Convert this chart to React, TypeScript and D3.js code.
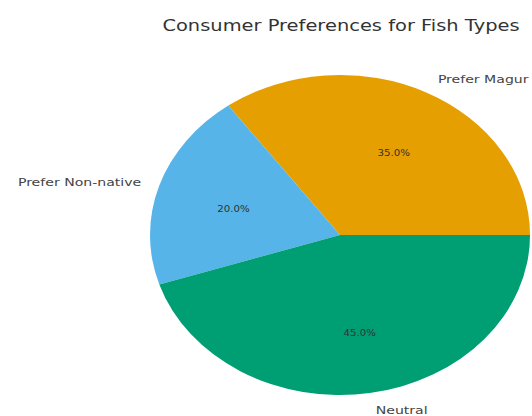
import React from "react";
import * as d3 from "d3";

const categories = ["Prefer Magur", "Prefer Non-native", "Neutral"];
const values = [35, 20, 45];
const colors = ["#E69F00", "#56B4E9", "#009E73"];
const title = "Consumer Preferences for Fish Types";

const SX = 1.28;

function SText(props: { x: number; y: number; size: number; fill: string; anchor: string; children: any; weight?: string }) {
  return (
    <g transform={`translate(${props.x},${props.y}) scale(${SX},1)`}>
      <text x={0} y={0} fontSize={props.size} fill={props.fill} textAnchor={props.anchor as any}
        dominantBaseline="middle" fontWeight={props.weight}>
        {props.children}
      </text>
    </g>
  );
}

export default function App() {
  const W = 532, H = 416;
  const cx = 340, cy = 235, rx = 190, ry = 160;
  const total = d3.sum(values);
  const angleScale = d3.scaleLinear().domain([0, total]).range([0, 2 * Math.PI]);
  const cum = d3.cumsum(values);
  const slices = values.map((v, i) => {
    const a0 = angleScale(cum[i] - v);
    const a1 = angleScale(cum[i]);
    return { v, i, a0, a1, mid: (a0 + a1) / 2 };
  });
  const arc = d3.arc<any>().innerRadius(0).outerRadius(1);
  const toD3 = (a: number) => Math.PI / 2 - a;
  const fmt = d3.format(".1f");
  return (
    <svg width={W} height={H} style={{ position: "absolute", left: 0, top: 0, background: "#fff" }}
      fontFamily="DejaVu Sans, sans-serif">
      <SText x={341} y={27} size={15.2} fill="#333" anchor="middle">{title}</SText>
      <g transform={`translate(${cx},${cy}) scale(${rx},${ry})`}>
        {slices.map((s) => (
          <path key={s.i}
            d={arc({ startAngle: toD3(s.a1), endAngle: toD3(s.a0) }) as string}
            fill={colors[s.i]} />
        ))}
      </g>
      {slices.map((s) => {
        const lx = cx + 1.1 * rx * Math.cos(s.mid);
        const ly = cy - 1.1 * ry * Math.sin(s.mid);
        const px = cx + 0.6 * rx * Math.cos(s.mid);
        const py = cy - 0.6 * ry * Math.sin(s.mid);
        const right = Math.cos(s.mid) >= 0;
        return (
          <g key={s.i}>
            <SText x={lx + (right ? 3 : 0)} y={ly + 2} size={11} fill="#444" anchor={right ? "start" : "end"}>
              {categories[s.i]}
            </SText>
            <SText x={px + 2} y={py + 4} size={8} fill="#333" anchor="middle">
              {fmt((s.v / total) * 100)}%
            </SText>
          </g>
        );
      })}
    </svg>
  );
}
